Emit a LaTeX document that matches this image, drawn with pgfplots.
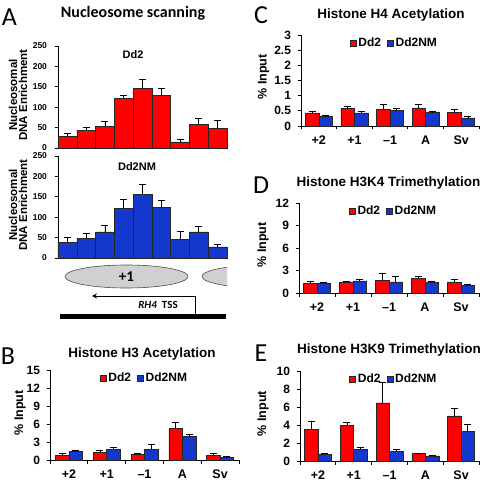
\documentclass[border=0pt]{standalone}
\usepackage{pgfplots}
\pgfplotsset{compat=1.18}
\usepackage{fontspec}
\setmainfont{Liberation Sans}
\newfontfamily\calfont{Carlito}
\usetikzlibrary{arrows.meta}
\definecolor{barred}{RGB}{255,0,0}
\definecolor{barblue}{RGB}{20,55,205}
\definecolor{ellgray}{RGB}{208,208,208}
\pgfplotsset{
  base/.style={scale only axis, axis lines*=left, axis line style={-, line width=0.8pt},
    tick style={black, line width=0.8pt}, tick align=outside, major tick length=3.5pt,
    /pgf/number format/assume math mode=true,
    yticklabel style={font=\bfseries\fontsize{12}{12}\selectfont, xshift=-3pt},
    xticklabel style={font=\bfseries\fontsize{12.5}{12.5}\selectfont, yshift=-6pt},
    clip=false},
  errs/.style={error bars/.cd, y dir=plus, y explicit,
    error bar style={black, line width=0.8pt},
    error mark options={rotate=90, black, mark size=3.5pt, line width=0.8pt}},
  panelA/.style={base, width=169pt, height=102pt, xmin=0.5, xmax=9.5, ymin=0, ymax=250,
    ytick={0,50,...,250}, xtick=\empty, ybar, bar width=18.78pt,
    yticklabel style={font=\bfseries\fontsize{8.5}{8.5}\selectfont, xshift=-1pt}},
  hist/.style={base, ybar=0pt, bar width=13.5pt, xmin=0.5, xmax=5.5, ymin=0,
    xtick={0.5,1.5,...,5.5}, xticklabels={},
    extra x ticks={1,2,3,4,5}, extra x tick labels={+2,+1,\textendash1,A,Sv},
    extra x tick style={major tick length=0pt},
    legend style={draw=none, fill=none, legend columns=2, anchor=north, inner sep=1pt,
      font=\bfseries\fontsize{12}{12}\selectfont,
      /tikz/every even column/.append style={column sep=4pt}},
    legend image code/.code={\draw[##1,line width=0.5pt] (0pt,-3pt) rectangle (6pt,3pt);}},
  rbar/.style={fill=barred, draw=black!85, line width=0.5pt},
  bbar/.style={fill=barblue, draw=black!85, line width=0.5pt},
}
\begin{document}
\begin{tikzpicture}
\useasboundingbox (0,0) rectangle (484pt,-486pt);

% ---------- Panel A ----------
\node[font=\calfont\fontsize{26}{26}\selectfont] at (9.5pt,-17pt) {A};
\node[font=\calfont\bfseries\fontsize{16}{16}\selectfont] at (133pt,-13pt) {Nucleosome scanning};

\begin{axis}[panelA, at={(58pt,-148pt)}, anchor=south west]
\addplot[rbar, errs] coordinates {
 (1,29) +- (0,6)
 (2,44) +- (0,7)
 (3,53) +- (0,12)
 (4,122) +- (0,7)
 (5,147) +- (0,21)
 (6,129) +- (0,16)
 (7,15) +- (0,5)
 (8,58) +- (0,15)
 (9,49) +- (0,19)
};
\end{axis}
\node[font=\bfseries\fontsize{11}{11}\selectfont] at (133pt,-55pt) {Dd2};
\node[rotate=90, align=center, font=\bfseries\fontsize{11.5}{10}\selectfont] at (18pt,-95pt) {Nucleosomal\\DNA Enrichment};

\begin{axis}[panelA, at={(58pt,-258pt)}, anchor=south west]
\addplot[bbar, errs] coordinates {
 (1,39) +- (0,12)
 (2,49) +- (0,12)
 (3,64) +- (0,17)
 (4,122) +- (0,22)
 (5,156) +- (0,25)
 (6,124) +- (0,16)
 (7,46) +- (0,20)
 (8,64) +- (0,14)
 (9,27) +- (0,6)
};
\end{axis}
\node[font=\bfseries\fontsize{11}{11}\selectfont] at (137pt,-167pt) {Dd2NM};
\node[rotate=90, align=center, font=\bfseries\fontsize{11.5}{10}\selectfont] at (18pt,-205pt) {Nucleosomal\\DNA Enrichment};

% nucleosomes and gene
\draw[fill=ellgray, draw=gray!60!black, line width=0.6pt] (126.5pt,-276.5pt) ellipse (61.5pt and 11.5pt);
\begin{scope}
\clip (195pt,-260pt) rectangle (227pt,-295pt);
\draw[fill=ellgray, draw=gray!60!black, line width=0.6pt] (263.5pt,-276.5pt) ellipse (61.5pt and 11.5pt);
\end{scope}
\node[font=\calfont\bfseries\fontsize{15}{15}\selectfont] at (126.5pt,-277pt) {+1};
\draw[line width=1pt, -{Stealth[length=5pt,width=5pt]}] (195pt,-316pt) -- (195pt,-296pt) -- (92pt,-296pt);
\fill (60pt,-314pt) rectangle (226pt,-319pt);
\node[font=\calfont\bfseries\fontsize{11}{11}\selectfont] at (158pt,-305pt) {\textit{RH4}\ \ TSS};

% ---------- Panel B ----------
\node[font=\calfont\fontsize{26}{26}\selectfont] at (8pt,-356pt) {B};
\node[font=\bfseries\fontsize{13.5}{13.5}\selectfont] at (142pt,-354pt) {Histone H3 Acetylation};
\node[rotate=90, font=\bfseries\fontsize{12.5}{12.5}\selectfont] at (20pt,-413pt) {\% Input};
\begin{axis}[hist, at={(50pt,-460pt)}, anchor=south west, width=189pt, height=90pt,
  ymax=15, ytick={0,3,...,15}, legend style={at={(0.5,1.0)}}]
\addplot[rbar, errs] coordinates {(1,0.83) +- (0,0.27) (2,1.3) +- (0,0.25) (3,0.9) +- (0,0.25) (4,5.28) +- (0,1.0) (5,0.8) +- (0,0.25)};
\addplot[bbar, errs] coordinates {(1,1.4) +- (0,0.25) (2,1.83) +- (0,0.2) (3,1.83) +- (0,0.7) (4,3.9) +- (0,0.4) (5,0.45) +- (0,0.1)};
\legend{Dd2,Dd2NM}
\end{axis}

% ---------- Panel C ----------
\node[font=\calfont\fontsize{26}{26}\selectfont] at (261pt,-15pt) {C};
\node[font=\bfseries\fontsize{13.5}{13.5}\selectfont] at (391pt,-15pt) {Histone H4 Acetylation};
\node[rotate=90, font=\bfseries\fontsize{12.5}{12.5}\selectfont] at (263.5pt,-77pt) {\% Input};
\begin{axis}[hist, at={(301pt,-126pt)}, anchor=south west, width=178pt, height=91pt,
  ymax=3, ytick={0,0.5,...,3}, legend style={at={(0.525,1.0)}}]
\addplot[rbar, errs] coordinates {(1,0.43) +- (0,0.05) (2,0.57) +- (0,0.08) (3,0.55) +- (0,0.17) (4,0.6) +- (0,0.11) (5,0.44) +- (0,0.1)};
\addplot[bbar, errs] coordinates {(1,0.31) +- (0,0.05) (2,0.43) +- (0,0.04) (3,0.52) +- (0,0.05) (4,0.46) +- (0,0.01) (5,0.27) +- (0,0.04)};
\legend{Dd2,Dd2NM}
\end{axis}

% ---------- Panel D ----------
\node[font=\calfont\fontsize{26}{26}\selectfont] at (261pt,-185pt) {D};
\node[font=\bfseries\fontsize{13.5}{13.5}\selectfont] at (388.5pt,-183pt) {Histone H3K4 Trimethylation};
\node[rotate=90, font=\bfseries\fontsize{12.5}{12.5}\selectfont] at (263pt,-245pt) {\% Input};
\begin{axis}[hist, at={(299pt,-293pt)}, anchor=south west, width=180pt, height=90pt,
  ymax=12, ytick={0,3,...,12}, legend style={at={(0.525,1.0)}}]
\addplot[rbar, errs] coordinates {(1,1.33) +- (0,0.23) (2,1.5) +- (0,0.1) (3,1.72) +- (0,0.85) (4,2.0) +- (0,0.22) (5,1.47) +- (0,0.3)};
\addplot[bbar, errs] coordinates {(1,1.28) +- (0,0.18) (2,1.63) +- (0,0.22) (3,1.5) +- (0,0.7) (4,1.42) +- (0,0.18) (5,0.98) +- (0,0.12)};
\legend{Dd2,Dd2NM}
\end{axis}

% ---------- Panel E ----------
\node[font=\calfont\fontsize{26}{26}\selectfont] at (261pt,-353pt) {E};
\node[font=\bfseries\fontsize{13.5}{13.5}\selectfont] at (389pt,-350pt) {Histone H3K9 Trimethylation};
\node[rotate=90, font=\bfseries\fontsize{12.5}{12.5}\selectfont] at (263pt,-413.5pt) {\% Input};
\begin{axis}[hist, at={(300pt,-461pt)}, anchor=south west, width=179pt, height=90pt,
  ymax=10, ytick={0,2,...,10}, legend style={at={(0.525,1.0)}}]
\addplot[rbar, errs] coordinates {(1,3.54) +- (0,0.85) (2,3.95) +- (0,0.3) (3,6.46) +- (0,2.25) (4,0.85) +- (0,0.03) (5,5.02) +- (0,0.77)};
\addplot[bbar, errs] coordinates {(1,0.74) +- (0,0.15) (2,1.29) +- (0,0.2) (3,1.07) +- (0,0.2) (4,0.57) +- (0,0.1) (5,3.32) +- (0,0.74)};
\legend{Dd2,Dd2NM}
\end{axis}
\end{tikzpicture}
\end{document}
